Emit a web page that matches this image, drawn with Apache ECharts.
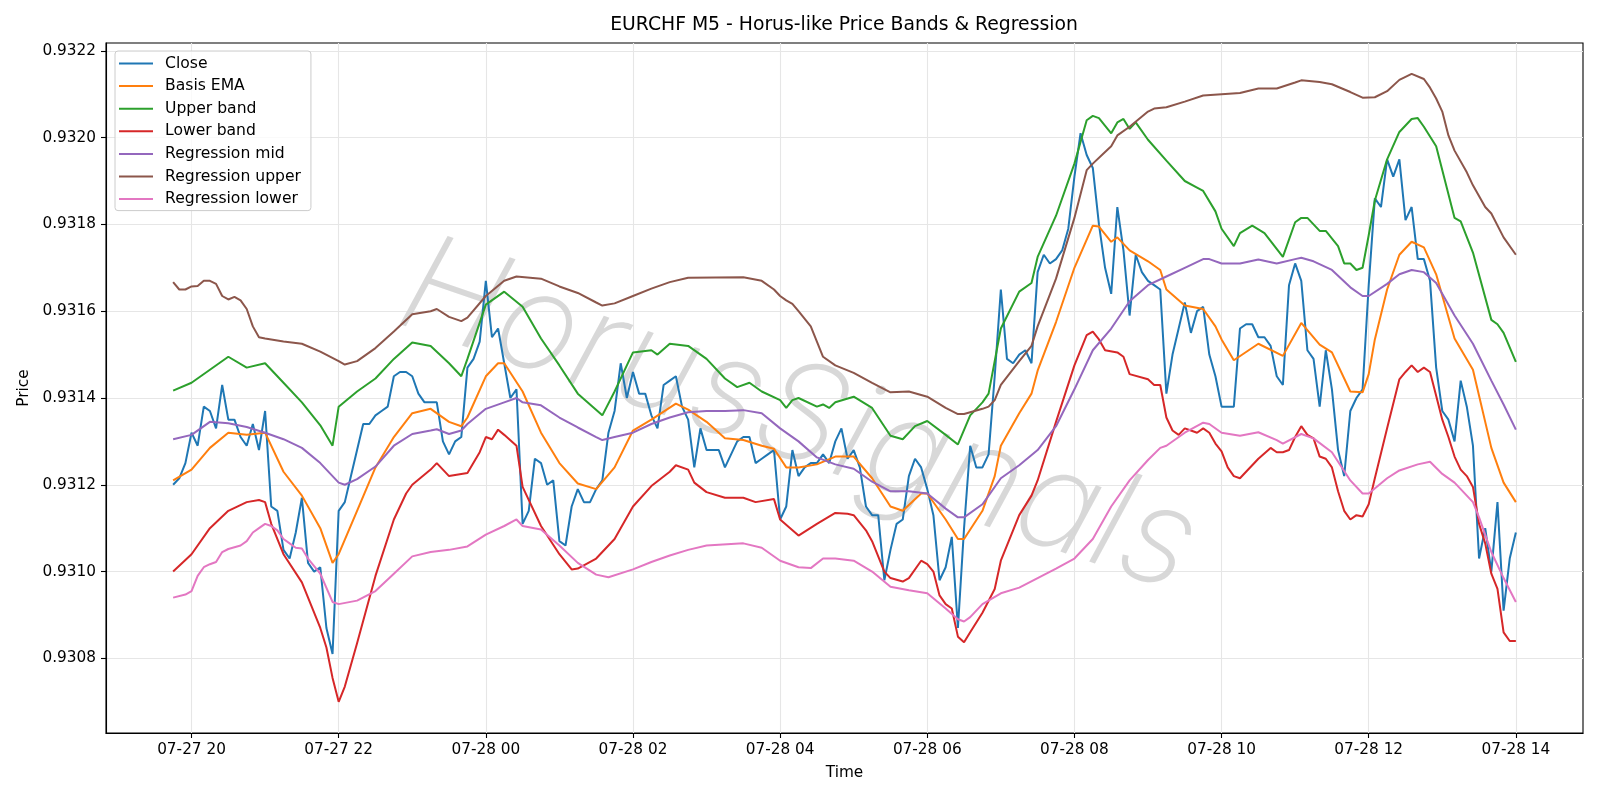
<!DOCTYPE html>
<html><head><meta charset="utf-8">
<script src="https://cdn.jsdelivr.net/npm/echarts@6/dist/echarts.min.js"></script>
<style>html,body{margin:0;padding:0;background:#fff}#c{width:1600px;height:800px}</style>
</head><body><div id="c"></div>
<script>
// Time: hours since 07-27 00:00, 5-minute bars starting 19:45
const startHour = 19.75;
const stepHours = 5 / 60;
const xTickHours = [20, 22, 24, 26, 28, 30, 32, 34, 36, 38];
const xTickLabels = ['07-27 20','07-27 22','07-28 00','07-28 02','07-28 04','07-28 06','07-28 08','07-28 10','07-28 12','07-28 14'];
const yTicks = [0.9308, 0.9310, 0.9312, 0.9314, 0.9316, 0.9318, 0.9320, 0.9322];
const seriesNames = ['Close','Basis EMA','Upper band','Lower band','Regression mid','Regression upper','Regression lower'];

// Close, one value per 5-minute bar
const closeVals = [
0.93120,0.931215,0.93125,0.93132,0.93129,0.93138,0.93137,0.93133,0.93143,0.93135,
0.93135,0.93131,0.93129,0.93134,0.93128,0.93137,0.93115,0.93114,0.93105,0.93103,
0.93109,0.93117,0.93102,0.93100,0.93101,0.93087,0.93081,0.93114,0.93116,0.93122,
0.93128,0.93134,0.93134,0.93136,0.93137,0.93138,0.93145,0.93146,0.93146,0.93145,
0.93141,0.93139,0.93139,0.93139,0.93130,0.93127,0.93130,0.93131,0.93147,0.93149,
0.93153,0.93167,0.93154,0.93156,0.93148,0.93140,0.93142,0.93111,0.93114,0.93126,
0.93125,0.93120,0.93121,0.93107,0.93106,0.93115,0.93119,0.93116,0.93116,0.93119,
0.93121,0.93132,0.93137,0.93148,0.93140,0.93146,0.93141,0.93141,0.93136,0.93133,
0.93143,0.93144,0.93145,0.93138,0.93135,0.93124,0.93133,0.93128,0.93128,0.93128,
0.93124,0.93127,0.93130,0.93131,0.93131,0.93125,0.93126,0.93127,0.93128,0.93112,
0.93115,0.93128,0.93122,0.93124,0.93125,0.93125,0.93127,0.93125,0.93130,0.93133,
0.93126,0.93128,0.93124,0.93115,0.93113,0.93113,0.93098,0.93105,0.93111,0.93112,
0.93122,0.93126,0.93124,0.93119,0.93113,0.93098,0.93101,0.93108,0.93087,0.93110,
0.93129,0.93124,0.93124,0.93127,0.93145,0.93165,0.93149,0.93148,0.93150,0.93151,
0.93148,0.93169,0.93173,0.93171,0.93172,0.93174,0.93179,0.93191,0.93201,0.93196,
0.93193,0.93180,0.93170,0.93164,0.93184,0.93174,0.93159,0.93173,0.93169,0.93167,
0.93166,0.93165,0.93141,0.93150,0.93156,0.93162,0.93155,0.93160,0.93161,0.93150,
0.93145,0.93138,0.93138,0.93138,0.93156,0.93157,0.93157,0.93154,0.93154,0.93152,
0.93145,0.93143,0.93166,0.93171,0.93167,0.93151,0.93149,0.93138,0.93151,0.93142,
0.93128,0.93122,0.93137,0.93140,0.93142,0.93166,0.93186,0.93184,0.93195,0.93191,
0.93195,0.93181,0.93184,0.93172,0.93172,0.93167,0.93147,0.93137,0.93135,0.93130,
0.93144,0.93138,0.93129,0.93103,0.93110,0.93100,0.93116,0.93091,0.93103,0.93109
];

// Smooth series: [bar index, value]
const emaPts = [[0,0.93121],[3,0.931235],[6,0.931285],[9,0.93132],[12,0.931315],[15,0.93132],[18,0.93123],[21,0.931175],[24,0.9311],[26,0.93102],[27,0.93104],[30,0.93114],[33,0.93124],[36,0.93131],[39,0.931365],[42,0.931375],[45,0.931345],[47,0.931335],[48,0.931355],[51,0.93145],[53,0.93148],[54,0.93148],[57,0.931415],[60,0.93132],[63,0.93125],[66,0.931203],[69,0.93119],[72,0.93124],[75,0.931325],[78,0.93135],[82,0.931387],[84,0.931373],[87,0.931345],[90,0.931307],[93,0.931303],[96,0.93129],[98,0.931283],[100,0.93124],[102,0.93124],[105,0.931247],[108,0.931265],[111,0.931265],[114,0.931215],[117,0.93115],[119,0.93114],[122,0.93118],[123,0.93118],[126,0.93112],[128,0.931075],[129,0.931075],[132,0.93114],[134,0.93122],[135,0.93129],[138,0.931365],[140,0.93141],[141,0.931463],[144,0.931575],[147,0.9317],[150,0.931797],[151,0.931795],[153,0.93176],[154,0.93177],[156,0.93174],[159,0.931715],[161,0.931695],[162,0.93165],[165,0.931613],[168,0.931605],[170,0.931565],[171,0.931535],[173,0.931487],[177,0.931525],[181,0.931497],[184,0.931573],[187,0.931523],[189,0.931505],[192,0.931415],[194,0.931413],[195,0.931455],[196,0.931535],[198,0.93165],[200,0.93173],[202,0.93176],[204,0.931747],[206,0.931685],[209,0.931537],[212,0.931465],[215,0.931285],[217,0.931205],[219,0.93116]];

const upperPts = [[0,0.931417],[3,0.931435],[6,0.931465],[9,0.931495],[12,0.93147],[15,0.93148],[18,0.931435],[21,0.93139],[24,0.931337],[26,0.93129],[27,0.93138],[30,0.931415],[33,0.931445],[36,0.93149],[39,0.931528],[42,0.93152],[45,0.93148],[47,0.93145],[48,0.93149],[51,0.931615],[54,0.931645],[57,0.93161],[60,0.931537],[63,0.931475],[66,0.93141],[70,0.93136],[72,0.931415],[75,0.931505],[78,0.93151],[79,0.9315],[81,0.931525],[84,0.93152],[87,0.93149],[90,0.931445],[92,0.931425],[94,0.931435],[96,0.931415],[99,0.931395],[100,0.931377],[101,0.931395],[102,0.9314],[105,0.93138],[106,0.931385],[107,0.931377],[108,0.93139],[111,0.931403],[114,0.931377],[117,0.931313],[119,0.931305],[121,0.931335],[123,0.931347],[126,0.931315],[128,0.931293],[130,0.93136],[132,0.93139],[133,0.93141],[135,0.93156],[138,0.931645],[140,0.931665],[141,0.931725],[144,0.93182],[147,0.93194],[149,0.93204],[150,0.93205],[151,0.932045],[153,0.93201],[154,0.932035],[155,0.932043],[156,0.93202],[157,0.932035],[159,0.931995],[162,0.931947],[165,0.9319],[167,0.931885],[168,0.931877],[170,0.93183],[171,0.93179],[173,0.93175],[174,0.93178],[176,0.931797],[178,0.93178],[181,0.931725],[183,0.931805],[184,0.931815],[185,0.931815],[187,0.931785],[188,0.931785],[190,0.93175],[191,0.93171],[192,0.93171],[193,0.931695],[194,0.9317],[195,0.931775],[196,0.931855],[198,0.93195],[200,0.932013],[202,0.932043],[203,0.932045],[204,0.932025],[206,0.93198],[209,0.931815],[210,0.931807],[212,0.931735],[215,0.93158],[216,0.93157],[217,0.93155],[219,0.931483]];

const lowerPts = [[0,0.931],[3,0.93104],[6,0.9311],[9,0.93114],[12,0.93116],[14,0.931165],[15,0.93116],[16,0.93111],[18,0.93104],[21,0.930975],[24,0.93087],[25,0.930825],[26,0.930755],[27,0.9307],[28,0.930735],[30,0.930835],[33,0.93099],[36,0.93112],[38,0.93118],[39,0.9312],[42,0.931235],[43,0.93125],[44,0.931235],[45,0.93122],[47,0.931225],[48,0.931227],[50,0.931275],[51,0.93131],[52,0.931305],[53,0.931327],[54,0.931315],[56,0.93129],[57,0.931195],[60,0.931105],[63,0.93104],[65,0.931005],[66,0.931007],[69,0.93103],[72,0.931075],[75,0.93115],[78,0.931197],[81,0.93123],[82,0.931245],[84,0.931235],[85,0.931205],[87,0.931183],[90,0.93117],[93,0.93117],[95,0.93116],[98,0.931167],[99,0.93112],[102,0.931083],[105,0.93111],[108,0.931135],[110,0.931133],[111,0.93113],[113,0.931095],[114,0.93107],[116,0.931],[117,0.930985],[119,0.930977],[120,0.930985],[122,0.931025],[123,0.931017],[124,0.931],[125,0.930945],[126,0.930925],[127,0.930915],[128,0.93085],[129,0.930837],[130,0.93086],[132,0.930905],[134,0.93096],[135,0.931025],[138,0.93113],[140,0.931175],[141,0.93121],[144,0.931345],[147,0.931475],[149,0.931545],[150,0.931553],[151,0.931535],[152,0.93151],[154,0.931505],[155,0.931495],[156,0.931455],[159,0.931443],[160,0.93143],[161,0.93143],[162,0.931355],[163,0.931325],[164,0.931315],[165,0.93133],[166,0.931325],[167,0.93132],[168,0.93133],[169,0.93132],[170,0.931295],[171,0.931277],[172,0.93124],[173,0.93122],[174,0.931215],[177,0.93126],[179,0.931285],[180,0.931275],[181,0.931275],[182,0.93128],[183,0.93131],[184,0.931335],[185,0.931315],[186,0.931307],[187,0.931265],[188,0.93126],[189,0.93124],[190,0.931185],[191,0.93114],[192,0.93112],[193,0.93113],[194,0.931127],[195,0.931155],[196,0.931215],[198,0.93133],[200,0.931443],[201,0.93146],[202,0.931475],[203,0.93146],[204,0.93147],[205,0.93146],[206,0.931405],[207,0.93135],[208,0.93131],[209,0.931265],[210,0.931235],[211,0.93122],[212,0.931195],[213,0.93111],[214,0.931065],[215,0.930995],[216,0.93096],[217,0.93086],[218,0.93084],[219,0.93084]];

const regMidPts = [[0,0.931305],[3,0.931315],[6,0.931345],[9,0.931342],[12,0.931333],[15,0.93132],[18,0.931305],[21,0.931285],[24,0.93125],[27,0.931205],[28,0.9312],[30,0.931213],[33,0.931242],[36,0.93129],[39,0.931317],[42,0.931325],[43,0.931328],[45,0.931317],[47,0.931325],[48,0.93134],[51,0.931375],[54,0.93139],[56,0.9314],[57,0.93139],[60,0.931383],[63,0.931355],[66,0.931332],[69,0.93131],[70,0.931303],[72,0.93131],[75,0.93132],[78,0.93134],[81,0.931355],[84,0.931367],[87,0.93137],[90,0.93137],[93,0.931372],[96,0.931365],[99,0.93133],[102,0.9313],[105,0.931263],[108,0.931247],[111,0.931237],[114,0.931207],[117,0.931185],[120,0.931185],[123,0.93118],[126,0.931145],[128,0.931125],[129,0.931125],[132,0.931155],[135,0.931215],[138,0.931245],[141,0.93128],[144,0.931335],[147,0.93142],[150,0.93151],[153,0.93156],[156,0.931623],[159,0.93166],[162,0.93168],[165,0.9317],[168,0.93172],[169,0.93172],[171,0.93171],[174,0.93171],[177,0.931719],[180,0.93171],[183,0.93172],[184,0.931723],[186,0.931715],[189,0.931695],[192,0.931655],[194,0.931635],[195,0.931635],[198,0.931663],[200,0.931685],[202,0.931695],[204,0.93169],[206,0.931665],[209,0.93159],[212,0.931525],[215,0.93144],[217,0.931385],[219,0.931327]];

const regUpperPts = [[0,0.931667],[1,0.93165],[2,0.93165],[3,0.931657],[4,0.931658],[5,0.93167],[6,0.93167],[7,0.931663],[8,0.931635],[9,0.931627],[10,0.931633],[11,0.931625],[12,0.931605],[13,0.931565],[14,0.93154],[15,0.931537],[18,0.93153],[21,0.931525],[24,0.931507],[27,0.931485],[28,0.931477],[30,0.931485],[33,0.931515],[36,0.931553],[39,0.931593],[42,0.9316],[43,0.931605],[45,0.931587],[47,0.931577],[48,0.931585],[51,0.931635],[54,0.93167],[56,0.93168],[60,0.931675],[63,0.931657],[66,0.931642],[69,0.93162],[70,0.931613],[72,0.931618],[75,0.931635],[78,0.931652],[81,0.931667],[84,0.931677],[93,0.931678],[96,0.93167],[98,0.93165],[99,0.931635],[100,0.931625],[101,0.931617],[102,0.9316],[104,0.931565],[105,0.93153],[106,0.931495],[108,0.931475],[111,0.931458],[114,0.931435],[117,0.931413],[120,0.931415],[123,0.931403],[126,0.931377],[128,0.931363],[129,0.931363],[132,0.931375],[133,0.93138],[134,0.931395],[135,0.93143],[138,0.931485],[140,0.93152],[141,0.931565],[144,0.931675],[147,0.931815],[149,0.931925],[150,0.93194],[152,0.931967],[153,0.93198],[154,0.932005],[156,0.932025],[159,0.93206],[160,0.932067],[162,0.93207],[165,0.932083],[168,0.932097],[171,0.9321],[174,0.932103],[177,0.932113],[180,0.932113],[183,0.932127],[184,0.932132],[187,0.932128],[189,0.932123],[192,0.932105],[194,0.932092],[196,0.932093],[198,0.932107],[200,0.932133],[202,0.932147],[204,0.932135],[205,0.932115],[206,0.93209],[207,0.93206],[208,0.932005],[209,0.93197],[211,0.93192],[212,0.93189],[214,0.93184],[215,0.931825],[217,0.93177],[219,0.93173]];

const regLowerPts = [[0,0.93094],[2,0.930947],[3,0.930955],[4,0.93099],[5,0.93101],[6,0.931017],[7,0.931022],[8,0.931045],[9,0.931052],[11,0.93106],[12,0.93107],[13,0.93109],[14,0.9311],[15,0.93111],[16,0.931105],[17,0.931095],[18,0.931075],[19,0.931065],[20,0.931055],[21,0.931053],[22,0.93103],[24,0.930995],[26,0.93093],[27,0.930925],[30,0.930933],[33,0.930955],[36,0.930995],[39,0.931035],[42,0.931045],[45,0.93105],[48,0.931058],[51,0.931085],[54,0.931105],[56,0.93112],[57,0.931105],[60,0.931097],[63,0.93106],[66,0.93102],[69,0.930993],[71,0.930987],[75,0.931005],[78,0.931022],[81,0.931037],[84,0.93105],[87,0.93106],[93,0.931065],[96,0.931055],[99,0.931025],[102,0.93101],[104,0.931008],[106,0.93103],[108,0.93103],[111,0.931025],[114,0.931],[117,0.930965],[120,0.930957],[123,0.93095],[126,0.930915],[128,0.93089],[129,0.930885],[130,0.930895],[132,0.930925],[135,0.93095],[138,0.930963],[141,0.930985],[144,0.931007],[147,0.93103],[150,0.931075],[153,0.93115],[156,0.93121],[159,0.931257],[161,0.931285],[162,0.93129],[165,0.93132],[168,0.931343],[169,0.93134],[171,0.93132],[174,0.931313],[177,0.931321],[180,0.931303],[181,0.931295],[184,0.931317],[186,0.931307],[189,0.931275],[192,0.93121],[194,0.93118],[195,0.93118],[198,0.931215],[200,0.931233],[203,0.931247],[205,0.931253],[207,0.931225],[209,0.931205],[212,0.93116],[213,0.931125],[215,0.931045],[217,0.930985],[219,0.93093]];

const colors = ['#1f77b4','#ff7f0e','#2ca02c','#d62728','#9467bd','#8c564b','#e377c2'];
const FONT = 'DejaVu Sans';
const toX = i => startHour + i * stepHours;
const closeData = closeVals.map((v, i) => [toX(i), v]);
const ptsData = pts => pts.map(p => [toX(p[0]), p[1]]);
const allData = [closeData, ptsData(emaPts), ptsData(upperPts), ptsData(lowerPts), ptsData(regMidPts), ptsData(regUpperPts), ptsData(regLowerPts)];

const chart = echarts.init(document.getElementById('c'), null, {renderer: 'canvas', width: 1600, height: 800});
chart.setOption({
  animation: false,
  backgroundColor: '#ffffff',
  title: {
    text: 'EURCHF M5 - Horus-like Price Bands & Regression',
    left: 844, top: 16, textAlign: 'center', padding: 0,
    textStyle: {fontFamily: FONT, fontSize: 18.8, fontWeight: 'normal', color: '#000'}
  },
  grid: {left: 106, right: 17, top: 43, bottom: 67, show: true, borderColor: '#000', borderWidth: 1.1, backgroundColor: 'transparent'},
  legend: {
    orient: 'vertical', left: 115, top: 51,
    icon: 'path://M0,0L34,0L34,2L0,2Z',
    itemWidth: 34, itemHeight: 14, itemGap: 6.6,
    padding: [4.5, 10, 3.5, 4],
    backgroundColor: 'rgba(255,255,255,0.8)', borderColor: '#cccccc', borderWidth: 1, borderRadius: 3,
    textStyle: {fontFamily: FONT, fontSize: 15.6, color: '#000', padding: [0, 0, 0, 7]},
    data: seriesNames
  },
  xAxis: {
    type: 'value', min: 18.8375, max: 38.9125,
    name: 'Time', nameLocation: 'middle', nameGap: 33,
    nameTextStyle: {fontFamily: FONT, fontSize: 15.3, color: '#000'},
    axisLine: {show: true, onZero: false, lineStyle: {color: '#000', width: 1.1}},
    axisTick: {show: true, length: 5, inside: false, lineStyle: {color: '#000', width: 1.1}, customValues: xTickHours},
    axisLabel: {margin: 10, fontFamily: FONT, fontSize: 15.3, color: '#000', customValues: xTickHours,
      formatter: v => { const k = xTickHours.findIndex(h => Math.abs(h - v) < 1e-6); return k >= 0 ? xTickLabels[k] : ''; }},
    splitLine: {show: true, lineStyle: {color: '#e6e6e6', width: 1.1}}
  },
  yAxis: {
    type: 'value', min: 0.930628, max: 0.932218, scale: true,
    name: 'Price', nameLocation: 'middle', nameGap: 66, nameRotate: 90,
    nameTextStyle: {fontFamily: FONT, fontSize: 15.3, color: '#000'},
    axisLine: {show: true, onZero: false, lineStyle: {color: '#000', width: 1.1}},
    axisTick: {show: true, length: 5, inside: false, lineStyle: {color: '#000', width: 1.1}, customValues: yTicks},
    axisLabel: {margin: 10, fontFamily: FONT, fontSize: 15.3, color: '#000', customValues: yTicks,
      formatter: v => v.toFixed(4)},
    splitLine: {show: true, lineStyle: {color: '#e6e6e6', width: 1.1}}
  },
  graphic: [{
    type: 'text', x: 798, y: 418, rotation: -19 * Math.PI / 180, z: 1, silent: true,
    style: {
      text: 'HorusSignals', x: 0, y: 0, align: 'center', verticalAlign: 'middle',
      font: 'italic 200 136px Inter, Roboto, "Noto Sans", "DejaVu Sans"', fill: 'rgba(212,212,212,0.9)',
      shadowColor: 'rgba(110,110,110,0.5)', shadowOffsetX: 3, shadowOffsetY: 3, shadowBlur: 1
    }
  }],
  series: seriesNames.map((name, k) => ({
    name, type: 'line', data: allData[k], symbol: 'none', showSymbol: false,
    lineStyle: {width: 2, color: colors[k]}, itemStyle: {color: colors[k]},
    emphasis: {disabled: true}, silent: true, z: 2 + k * 0.01, clip: true
  }))
});
</script></body></html>
